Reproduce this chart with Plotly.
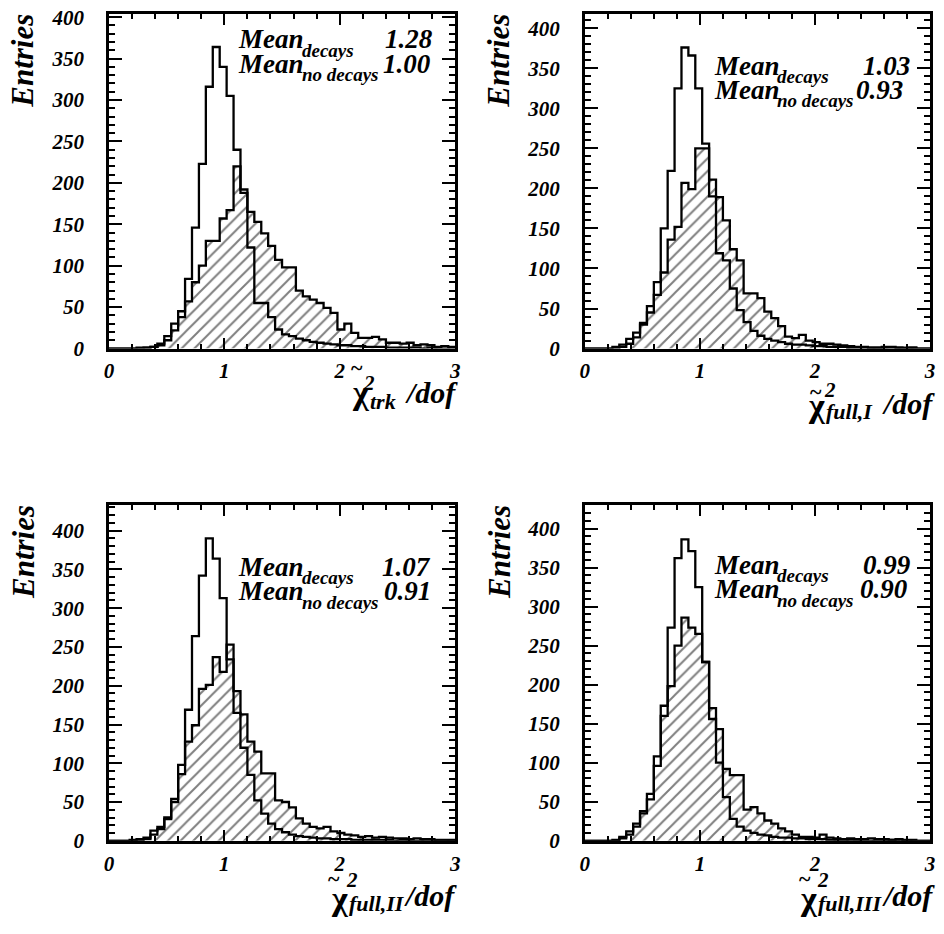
import plotly.graph_objects as go

W, H = 944, 934

# binning of all four histograms: 50 bins of 0.06 from 0 to 3
X_LO = 0.0
BIN_W = 0.06
N_BINS = 50

# chi2_trk / dof
trk_decays = [0, 0, 0, 0, 0, 1, 2, 4, 10, 22,
              38, 57, 80, 100, 130, 130, 157, 167, 220, 188,
              165, 153, 139, 124, 107, 98, 98, 70, 63, 59,
              55, 49, 43, 23, 30, 19, 13, 13, 14, 11,
              7, 7, 6, 7, 4, 5, 4, 2, 3, 2]
trk_nodecays = [0, 0, 0, 0, 1, 1, 2, 6, 15, 30,
                45, 84, 146, 223, 316, 364, 340, 305, 240, 192,
                122, 55, 55, 38, 23, 17, 15, 12, 10, 8,
                7, 6, 5, 4, 4, 3, 3, 2, 2, 2,
                1, 1, 1, 1, 1, 0, 1, 0, 0, 0]

# chi2_full,I / dof
full1_decays = [0, 0, 0, 0, 0, 2, 6, 14, 30, 45,
                67, 95, 136, 152, 207, 199, 250, 250, 211, 189,
                160, 124, 110, 69, 69, 63, 46, 38, 28, 15,
                13, 17, 10, 8, 6, 6, 5, 4, 3, 2,
                2, 1, 1, 2, 2, 1, 1, 1, 0, 0]
full1_nodecays = [0, 0, 0, 0, 2, 5, 12, 20, 32, 53,
                  83, 150, 222, 325, 376, 366, 325, 256, 190, 119,
                  110, 75, 48, 33, 22, 16, 12, 10, 8, 6,
                  5, 5, 4, 3, 3, 2, 2, 2, 1, 1,
                  1, 1, 1, 1, 1, 1, 0, 1, 0, 0]

# chi2_full,II / dof
full2_decays = [0, 0, 0, 0, 0, 2, 8, 15, 28, 50,
                86, 128, 149, 196, 201, 237, 218, 253, 193, 163,
                128, 115, 87, 87, 52, 50, 43, 29, 22, 18,
                16, 18, 12, 10, 8, 7, 5, 6, 4, 5,
                4, 3, 3, 2, 3, 2, 2, 1, 1, 1]
full2_nodecays = [0, 0, 0, 1, 2, 4, 13, 18, 30, 54,
                  98, 169, 264, 342, 390, 364, 313, 234, 165, 120,
                  85, 52, 35, 22, 15, 11, 8, 6, 5, 4,
                  3, 3, 2, 2, 2, 1, 1, 1, 1, 1,
                  1, 0, 1, 0, 0, 1, 0, 0, 0, 0]

# chi2_full,III / dof
full3_decays = [0, 0, 0, 0, 0, 3, 8, 18, 35, 53,
                96, 160, 198, 250, 286, 273, 265, 229, 170, 143,
                92, 84, 84, 40, 43, 35, 26, 22, 16, 12,
                8, 5, 5, 4, 8, 4, 3, 2, 3, 2,
                2, 3, 2, 2, 1, 2, 1, 1, 0, 0]
full3_nodecays = [0, 0, 0, 0, 1, 5, 12, 22, 38, 60,
                  108, 173, 273, 362, 386, 371, 325, 229, 156, 100,
                  56, 28, 18, 13, 10, 8, 7, 5, 4, 4,
                  3, 3, 2, 2, 2, 1, 1, 1, 1, 1,
                  1, 0, 1, 0, 1, 0, 0, 0, 0, 0]

subscripts = ["trk", "full,I", "full,II", "full,III"]
mean_decays = ["1.28", "1.03", "1.07", "0.99"]
mean_nodecays = ["1.00", "0.93", "0.91", "0.90"]
y_ticks = [0, 50, 100, 150, 200, 250, 300, 350, 400]
x_ticks = [0, 1, 2, 3]

FONT = "Liberation Serif"
LW = 2.3


def px(x, y):
    return x / W, 1 - y / H


def edges():
    return [X_LO + BIN_W * i for i in range(N_BINS + 1)]


# panel frames in pixels (left, top, right, bottom), y-range top and text layout
panels = [
    dict(box=(105, 6, 455, 348), ytop=404, dec=trk_decays, nodec=trk_nodecays,
         mean_x=233, sub_x=298, val_x=(435, 433), row_y=(32, 57),
         dof_r=460, dof_y=393, sub_y=402, chi_x=367, chi_y=393,
         two_x=360, two_y=383, tld_x=356, tld_y=367),
    dict(box=(586, 6, 935, 348), ytop=418, dec=full1_decays, nodec=full1_nodecays,
         mean_x=715, sub_x=778, val_x=(917, 910), row_y=(59, 84),
         dof_r=942, dof_y=404, sub_y=412, chi_x=828, chi_y=406,
         two_x=826, two_y=390, tld_x=820, tld_y=392),
    dict(box=(105, 508, 455, 851), ytop=433, dec=full2_decays, nodec=full2_nodecays,
         mean_x=233, sub_x=298, val_x=(433, 433), row_y=(571, 596),
         dof_r=459, dof_y=907, sub_y=915, chi_x=346, chi_y=910,
         two_x=343, two_y=891, tld_x=333, tld_y=890),
    dict(box=(586, 508, 935, 851), ytop=430, dec=full3_decays, nodec=full3_nodecays,
         mean_x=715, sub_x=778, val_x=(918, 915), row_y=(569, 594),
         dof_r=942, dof_y=907, sub_y=915, chi_x=820, chi_y=910,
         two_x=819, two_y=891, tld_x=809, tld_y=890),
]

fig = go.Figure()
annotations = []
layout_axes = {}

tickfont = dict(family=FONT, size=21, color="black", weight="bold", style="italic")

for k, p in enumerate(panels):
    n = "" if k == 0 else str(k + 1)
    xa, ya = "x" + n, "y" + n
    l, t, r, b = p["box"]

    xs = edges()
    fig.add_trace(go.Scatter(
        x=xs, y=p["dec"] + [p["dec"][-1]], xaxis=xa, yaxis=ya,
        mode="lines", line=dict(color="black", width=LW, shape="hv"),
        fill="tozeroy", fillcolor="white",
        fillpattern=dict(shape="/", fgcolor="black", bgcolor="white", size=9, solidity=0.22),
        hoverinfo="skip"))
    fig.add_trace(go.Scatter(
        x=xs, y=p["nodec"] + [p["nodec"][-1]], xaxis=xa, yaxis=ya,
        mode="lines", line=dict(color="black", width=LW, shape="hv"),
        hoverinfo="skip"))

    layout_axes["xaxis" + n] = dict(
        domain=[l / W, r / W], anchor=ya, range=[0, 3],
        tickmode="array", tickvals=x_ticks, ticktext=[str(v) for v in x_ticks],
        ticks="inside", ticklen=11, tickwidth=1.5, tickcolor="black",
        minor=dict(ticks="inside", dtick=0.2, tick0=0, ticklen=5, tickwidth=1.5, tickcolor="black"),
        showline=True, linewidth=2.5, linecolor="black", mirror="ticks",
        showgrid=False, zeroline=False, tickfont=tickfont, ticklabelstandoff=2,
        ticklabeloverflow="allow")
    layout_axes["yaxis" + n] = dict(
        domain=[1 - b / H, 1 - t / H], anchor=xa, range=[0, p["ytop"]],
        tickmode="array", tickvals=y_ticks, ticktext=[str(v) for v in y_ticks],
        ticks="inside", ticklen=13, tickwidth=1.5, tickcolor="black",
        minor=dict(ticks="inside", dtick=10, tick0=0, ticklen=6, tickwidth=1.5, tickcolor="black"),
        showline=True, linewidth=2.5, linecolor="black", mirror="ticks",
        showgrid=False, zeroline=False, tickfont=tickfont, ticklabelstandoff=18,
        ticklabeloverflow="allow")

    def ann(text, x, y, size, xanchor="left", yanchor="middle", italic=True, bold=True, **kw):
        ax, ay = px(x, y)
        annotations.append(dict(
            text=text, x=ax, y=ay, xref="paper", yref="paper", showarrow=False,
            xanchor=xanchor, yanchor=yanchor,
            font=dict(family=FONT, size=size, color="black",
                      weight="bold" if bold else "normal",
                      style="italic" if italic else "normal"), **kw))

    # y title
    ann("Entries", l - 87, t - 2, 31, xanchor="center", yanchor="top", textangle=-90)

    # means box
    for row, (sub, val) in enumerate([("decays", mean_decays[k]), ("no decays", mean_nodecays[k])]):
        cy = p["row_y"][row]
        ann("Mean", p["mean_x"], cy, 27)
        ann(sub, p["sub_x"], cy + 11, 19)
        ann(val, p["val_x"][row], cy, 27, xanchor="right")

    # x title: tilde chi ^2 _sub /dof
    ann("/dof", p["dof_r"], p["dof_y"], 30, xanchor="right")
    ann(subscripts[k], p["chi_x"], p["sub_y"], 22)
    ann("χ", p["chi_x"] + 3, p["chi_y"], 34, xanchor="right", italic=False, bold=True)
    ann("2", p["two_x"], p["two_y"], 21)
    ann("~", p["tld_x"], p["tld_y"], 22, xanchor="center", italic=False)

fig.update_layout(
    width=W, height=H, margin=dict(l=0, r=0, t=0, b=0),
    paper_bgcolor="white", plot_bgcolor="white", showlegend=False,
    annotations=annotations, **layout_axes)

fig.write_html("out.html", config={"displayModeBar": False},
               post_script="document.body.style.margin='0px';")
